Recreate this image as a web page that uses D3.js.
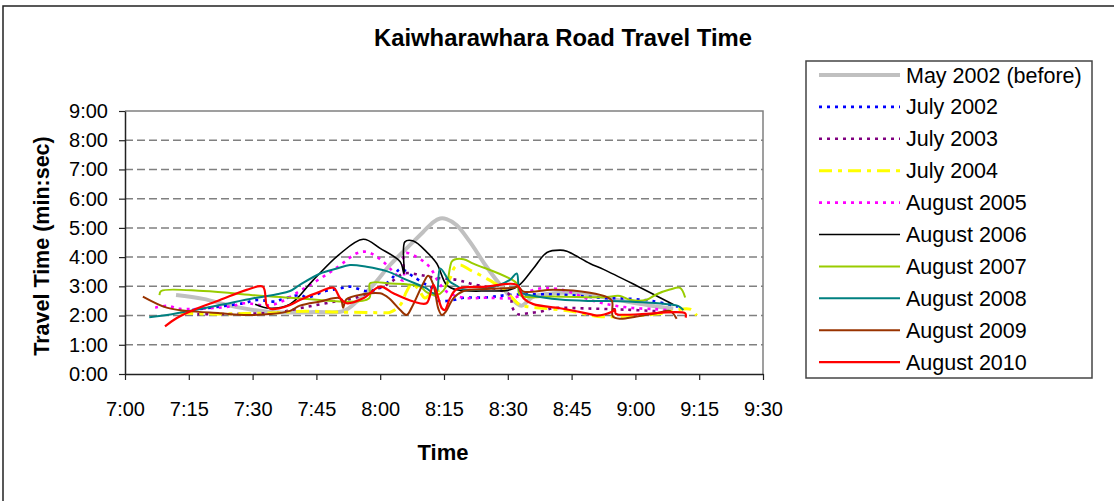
<!DOCTYPE html>
<html>
<head>
<meta charset="utf-8">
<script src="https://cdn.jsdelivr.net/npm/d3@7/dist/d3.min.js"></script>
<style>
  html, body { margin: 0; padding: 0; background: #fff; }
  svg { display: block; font-family: "Liberation Sans", Arial, sans-serif; }
</style>
</head>
<body>
<svg id="chart" width="1114" height="501"></svg>
<script>
// Survey runs: [clock time, travel time in minutes]
const may2002 = [["7:12:00",2.70],["7:18:24",2.57],["7:24:42",2.34],["7:30:12",2.19],["7:35:42",2.11],["7:45:00",2.12],["7:51:18",2.15],["7:54:30",2.48],["7:58:24",3.05],["8:02:18",3.73],["8:06:12",4.30],["8:10:06",4.86],["8:12:30",5.20],["8:14:06",5.32],["8:15:36",5.30],["8:18:00",5.09],["8:21:06",4.52],["8:25:00",3.67],["8:28:54",2.93],["8:32:06",2.42],["8:33:18",2.34],["8:36:00",2.65],["8:40:42",2.76],["8:46:12",2.78],["8:56:24",2.52],["9:04:12",2.33],["9:08:54",2.24]];
const jul2002 = [["7:15:48",2.19],["7:22:18",2.31],["7:27:48",2.42],["7:31:00",2.53],["7:35:18",2.48],["7:36:24",2.53],["7:41:06",2.70],["7:43:00",2.62],["7:46:42",2.82],["7:50:36",2.93],["7:52:54",2.99],["7:56:48",2.84],["8:00:00",2.95],["8:03:06",3.33],["8:04:18",3.56],["8:05:00",3.60],["8:07:48",3.33],["8:10:54",3.05],["8:12:30",2.90],["8:13:18",2.53],["8:17:12",2.53],["8:19:36",2.61],["8:25:00",2.62],["8:29:42",2.70],["8:39:12",2.73],["8:44:36",2.70],["8:53:18",2.59],["8:56:24",2.59],["9:04:00",2.50],["9:10:00",2.30]];
const jul2003 = [["7:17:00",2.05],["7:22:00",2.05],["7:28:00",2.06],["7:33:00",2.08],["7:36:24",2.11],["7:41:06",2.25],["7:51:18",2.53],["7:54:00",2.60],["8:02:00",3.10],["8:05:36",3.44],["8:09:24",3.39],["8:12:30",3.30],["8:18:00",3.22],["8:21:06",3.10],["8:30:30",2.70],["8:31:00",2.30],["8:32:18",2.05],["8:34:42",2.08],["8:37:48",2.14],["8:40:42",2.25],["8:48:54",2.24],["8:58:00",2.20],["9:05:00",2.15]];
const jul2004 = [["7:13:00",2.10],["7:20:00",2.05],["7:28:00",2.07],["7:36:00",2.10],["7:42:00",2.15],["7:50:00",2.12],["8:00:00",2.10],["8:02:18",2.11],["8:04:42",2.36],["8:06:12",2.82],["8:07:30",3.10],["8:09:00",2.90],["8:10:30",2.60],["8:12:00",2.75],["8:15:00",2.95],["8:16:30",3.30],["8:17:30",3.65],["8:18:48",3.73],["8:21:06",3.56],["8:25:00",3.27],["8:29:00",2.90],["8:32:54",2.36],["8:35:00",2.30],["8:45:00",2.15],["8:51:12",1.97],["8:56:30",1.97],["9:05:00",2.05],["9:12:48",2.22],["9:14:24",2.00]];
const aug2005 = [["7:07:06",2.27],["7:10:00",2.33],["7:12:54",2.23],["7:20:00",2.25],["7:24:42",2.31],["7:28:00",2.42],["7:34:30",2.36],["7:41:54",2.91],["7:49:48",3.64],["7:54:30",4.13],["7:56:48",4.18],["8:00:00",3.93],["8:03:06",3.50],["8:05:24",3.20],["8:05:48",4.13],["8:09:24",3.93],["8:11:42",3.65],["8:13:30",3.20],["8:15:36",2.82],["8:19:36",2.61],["8:25:00",2.61],["8:31:18",2.61],["8:36:48",2.91],["8:40:42",2.93],["8:43:54",2.84],["8:49:18",2.54],["8:54:00",2.37],["8:59:18",2.26],["9:04:36",2.22],["9:07:48",2.18]];
const aug2006 = [["7:30:36",2.39],["7:34:00",2.25],["7:38:48",2.39],["7:44:18",3.22],["7:50:12",4.07],["7:56:00",4.61],["8:00:00",4.30],["8:04:42",3.84],["8:05:36",3.44],["8:05:48",4.52],["8:07:48",4.55],["8:10:54",4.18],["8:13:18",3.78],["8:15:36",3.05],["8:18:00",2.88],["8:25:00",2.84],["8:30:30",2.88],["8:32:54",3.07],["8:36:00",3.61],["8:39:12",4.16],["8:42:18",4.24],["8:43:54",4.20],["8:49:18",3.78],["8:52:30",3.58],["9:00:18",3.02],["9:08:54",2.38]];
const aug2007 = [["7:08:06",2.70],["7:08:30",2.84],["7:18:24",2.84],["7:31:42",2.68],["7:38:48",2.61],["7:57:24",2.59],["7:57:36",3.10],["8:02:18",3.10],["8:06:12",3.07],["8:09:24",2.99],["8:10:54",2.80],["8:12:30",2.70],["8:14:06",2.75],["8:15:30",3.00],["8:16:48",3.84],["8:17:30",3.92],["8:19:36",3.93],["8:21:54",3.78],["8:32:06",3.10],["8:32:54",2.70],["8:40:42",2.65],["8:52:30",2.63],["8:56:24",2.67],["8:58:42",2.54],["9:02:36",2.54],["9:05:00",2.73],["9:08:06",2.89],["9:10:30",2.95],["9:11:42",2.62]];
const aug2008 = [["7:05:42",1.94],["7:09:00",2.00],["7:14:30",2.14],["7:22:18",2.36],["7:30:12",2.59],["7:35:42",2.73],["7:38:48",2.84],["7:41:06",3.05],["7:45:54",3.44],["7:49:48",3.61],["7:52:54",3.73],["7:56:48",3.67],["8:01:30",3.52],["8:06:12",3.22],["8:10:54",2.93],["8:12:30",2.76],["8:13:18",2.80],["8:14:06",3.61],["8:16:24",3.16],["8:18:00",3.02],["8:19:18",2.91],["8:25:00",2.93],["8:30:30",3.22],["8:32:06",3.44],["8:32:54",2.82],["8:36:00",2.68],["8:42:18",2.55],["8:49:18",2.50],["8:56:24",2.49],["9:08:06",2.38],["9:10:00",2.33],["9:11:18",2.19]];
const aug2009 = [["7:04:12",2.65],["7:09:48",2.27],["7:14:30",2.16],["7:22:18",2.08],["7:28:36",2.02],["7:34:06",2.05],["7:38:48",2.16],["7:41:06",2.34],["7:45:54",2.48],["7:50:36",2.59],["7:51:18",2.27],["7:52:00",2.55],["7:56:00",2.73],["8:00:00",2.76],["8:02:00",2.60],["8:04:42",2.19],["8:06:12",2.02],["8:07:30",2.30],["8:10:06",3.10],["8:11:18",3.36],["8:12:30",3.05],["8:13:42",2.22],["8:14:30",2.02],["8:15:30",2.15],["8:17:12",2.59],["8:19:36",2.84],["8:25:00",2.91],["8:31:18",2.95],["8:32:30",2.99],["8:33:42",2.82],["8:40:42",2.88],["8:49:18",2.78],["8:53:18",2.63],["8:54:30",2.50],["8:54:42",1.97],["8:56:24",1.89],["9:00:18",1.97],["9:05:00",2.08],["9:08:06",2.16],["9:09:42",1.89]];
const aug2010 = [["7:09:24",1.63],["7:12:06",1.91],["7:16:06",2.19],["7:22:18",2.53],["7:28:36",2.88],["7:32:24",2.99],["7:33:18",2.36],["7:34:06",2.23],["7:36:24",2.25],["7:38:48",2.36],["7:41:06",2.53],["7:45:54",2.82],["7:49:00",2.95],["7:50:36",2.59],["7:52:06",2.42],["7:56:00",2.59],["8:00:00",2.99],["8:03:06",2.76],["8:07:48",2.48],["8:10:54",2.42],["8:12:30",3.05],["8:14:30",2.25],["8:15:12",2.19],["8:16:24",2.59],["8:18:00",2.91],["8:25:00",2.99],["8:32:06",3.05],["8:33:42",2.59],["8:36:00",2.39],["8:42:18",2.25],["8:49:18",2.05],["8:51:00",2.00],["8:54:30",2.13],["8:55:12",2.20],["8:55:24",2.06],["9:11:42",2.08],["9:11:48",1.93]];

const seriesNames = ["May 2002 (before)","July 2002","July 2003","July 2004","August 2005","August 2006","August 2007","August 2008","August 2009","August 2010"];
const seriesData = [may2002, jul2002, jul2003, jul2004, aug2005, aug2006, aug2007, aug2008, aug2009, aug2010];
const xTickLabels = ["7:00","7:15","7:30","7:45","8:00","8:15","8:30","8:45","9:00","9:15","9:30"];
const yTickLabels = ["0:00","1:00","2:00","3:00","4:00","5:00","6:00","7:00","8:00","9:00"];

// Line appearance for each run
const styles = [
  { color: "#C0C0C0", width: 4,   dash: null },
  { color: "#0000FF", width: 2.6, dash: "3,5" },
  { color: "#800080", width: 2.6, dash: "3,5" },
  { color: "#FFFF00", width: 3,   dash: "13,6,4,6" },
  { color: "#FF00FF", width: 2.6, dash: "3,5" },
  { color: "#000000", width: 1.6, dash: null },
  { color: "#99CC00", width: 2,   dash: null },
  { color: "#008080", width: 2,   dash: null },
  { color: "#993300", width: 2,   dash: null },
  { color: "#FF0000", width: 2.2, dash: null }
];

const clock = s => { const p = s.split(":").map(Number); return p[0] * 60 + p[1] + (p[2] || 0) / 60; };

const svg = d3.select("#chart");
const plot = { left: 125, right: 763, top: 111, bottom: 374 };

const x = d3.scaleLinear().domain([clock("7:00"), clock("9:30")]).range([plot.left, plot.right]);
const y = d3.scaleLinear().domain([0, 9]).range([plot.bottom, plot.top]);

// Outer chart frame
svg.append("rect").attr("x", 3).attr("y", 6).attr("width", 1130).attr("height", 520)
  .attr("fill", "#fff").attr("stroke", "#222").attr("stroke-width", 1.5);

// Title
svg.append("text").attr("x", 563).attr("y", 46).attr("text-anchor", "middle")
  .attr("font-weight", "bold").attr("font-size", 23.8).text("Kaiwharawhara Road Travel Time");

// Horizontal grid lines
svg.append("g").selectAll("line").data(d3.range(1, 9)).join("line")
  .attr("x1", plot.left).attr("x2", plot.right)
  .attr("y1", d => y(d)).attr("y2", d => y(d))
  .attr("stroke", "#808080").attr("stroke-width", 1.5).attr("stroke-dasharray", "8,4");

// Plot area top and right edges
svg.append("path")
  .attr("d", `M${plot.left},${plot.top}H${plot.right}V${plot.bottom}`)
  .attr("fill", "none").attr("stroke", "#808080").attr("stroke-width", 1.5);

// Axes
const xAxis = d3.axisBottom(x).tickValues(xTickLabels.map(clock))
  .tickFormat((d, i) => xTickLabels[i]).tickSize(6).tickSizeOuter(0).tickPadding(22);
const yAxis = d3.axisLeft(y).tickValues(yTickLabels.map((d, i) => i))
  .tickFormat((d, i) => yTickLabels[i]).tickSize(6).tickSizeOuter(0).tickPadding(11);

const gx = svg.append("g").attr("transform", `translate(0,${plot.bottom})`).call(xAxis);
const gy = svg.append("g").attr("transform", `translate(${plot.left},0)`).call(yAxis);
[gx, gy].forEach(g => {
  g.select(".domain").attr("stroke", "#222").attr("stroke-width", 1.5);
  g.selectAll(".tick line").attr("stroke", "#222").attr("stroke-width", 1.2);
  g.selectAll(".tick text").attr("fill", "#000").attr("font-size", 20)
    .attr("font-family", "'Liberation Sans', Arial, sans-serif");
});

// Axis titles
svg.append("text").attr("x", 443).attr("y", 460).attr("text-anchor", "middle")
  .attr("font-weight", "bold").attr("font-size", 22).text("Time");
svg.append("text").attr("transform", "translate(49,246) rotate(-90)").attr("text-anchor", "middle")
  .attr("font-weight", "bold").attr("font-size", 21.5).text("Travel Time (min:sec)");

// Series lines
const line = d3.line()
  .x(d => x(clock(d[0])))
  .y(d => y(d[1]))
  .curve(d3.curveCatmullRom.alpha(0.5));

svg.append("g").selectAll("path").data(seriesData).join("path")
  .attr("d", d => line(d))
  .attr("fill", "none")
  .attr("stroke", (d, i) => styles[i].color)
  .attr("stroke-width", (d, i) => styles[i].width)
  .attr("stroke-dasharray", (d, i) => styles[i].dash)
  .attr("stroke-linejoin", "round");

// Legend
const legend = svg.append("g");
legend.append("rect").attr("x", 806).attr("y", 61).attr("width", 286).attr("height", 317)
  .attr("fill", "#fff").attr("stroke", "#444").attr("stroke-width", 1.5);
const rows = legend.selectAll("g.row").data(seriesNames).join("g")
  .attr("class", "row")
  .attr("transform", (d, i) => `translate(0,${75 + i * 31.9})`);
rows.append("line").attr("x1", 819).attr("x2", 900).attr("y1", 0).attr("y2", 0)
  .attr("stroke", (d, i) => styles[i].color)
  .attr("stroke-width", (d, i) => styles[i].width)
  .attr("stroke-dasharray", (d, i) => styles[i].dash);
rows.append("text").attr("x", 906).attr("y", 7.5).attr("font-size", 21.5).text(d => d);
</script>
</body>
</html>
